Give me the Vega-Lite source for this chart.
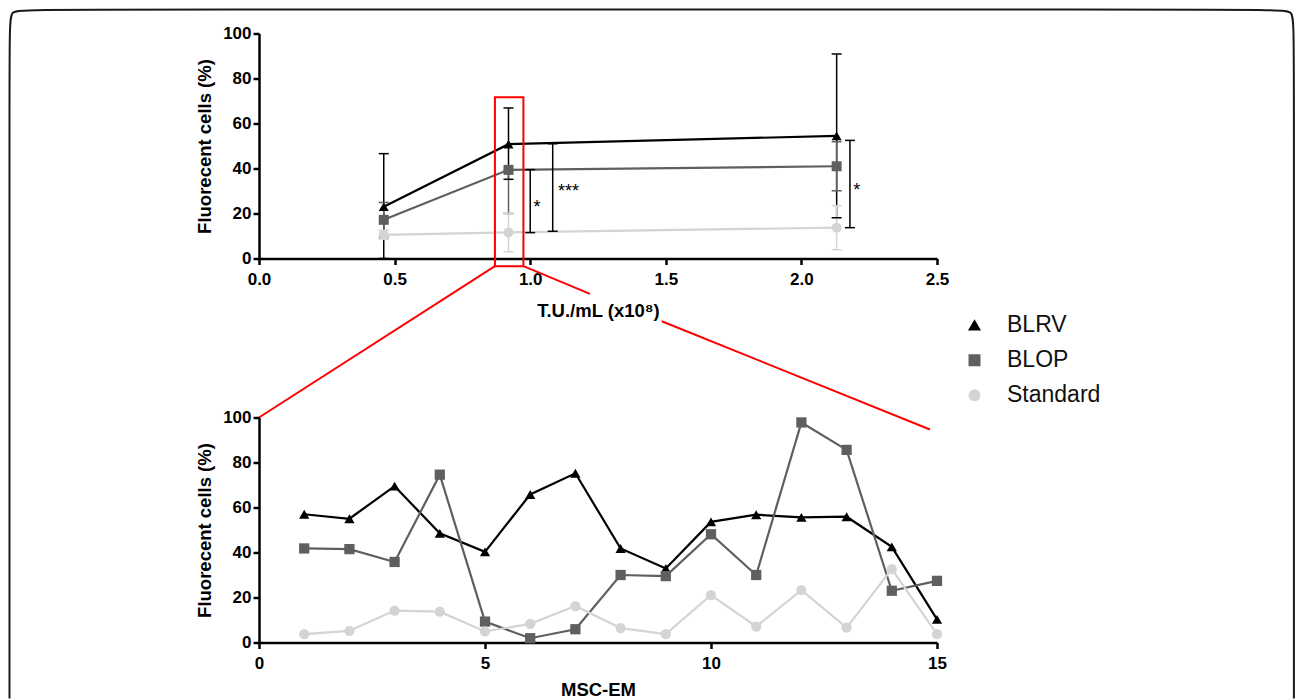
{
  "$schema": "https://vega.github.io/schema/vega-lite/v6.json",
  "background": "white",
  "padding": {"left": 5, "top": 4.5, "right": 0, "bottom": 0},
  "autosize": {"type": "pad"},
  "spacing": 159,
  "bounds": "flush",
  "config": {
    "view": {"stroke": null},
    "font": "Liberation Sans",
    "axis": {
      "domainColor": "#000000", "domainWidth": 2.5, "tickColor": "#000000", "tickWidth": 2.5, "tickSize": 6,
      "labelFont": "Liberation Sans", "labelFontSize": 17, "labelFontWeight": "bold", "labelColor": "#000000",
      "labelPadding": 2, "labelFlush": false,
      "titleFont": "Liberation Sans", "titleFontSize": 18.5, "titleFontWeight": "bold", "titleColor": "#000000",
      "grid": false
    },
    "axisX": {"labelPadding": 7},
    "axisY": {"titlePadding": 8},
    "legend": {
      "orient": "none", "legendX": 704, "legendY": 280.3, "direction": "vertical",
      "labelFont": "Liberation Sans", "labelFontSize": 23, "labelColor": "#111111", "labelOffset": 21,
      "symbolSize": 110, "rowPadding": 11, "symbolOpacity": 1
    },
    "text": {"font": "Liberation Sans"}
  },
  "datasets": {
    "frame": [
      {"i": 0, "x": -0.920, "y": -195.6},
      {"i": 1, "x": -0.920, "y": 101.8},
      {"i": 2, "x": -0.920, "y": 110.67},
      {"i": 3, "x": -0.846, "y": 110.67},
      {"i": 4, "x": 3.742, "y": 110.67},
      {"i": 5, "x": 3.816, "y": 110.67},
      {"i": 6, "x": 3.816, "y": 101.8},
      {"i": 7, "x": 3.816, "y": -195.6}
    ],
    "top": [
      {"series": "BLRV", "x": 0.46, "y": 23, "lo": 0, "hi": 46.6},
      {"series": "BLRV", "x": 0.92, "y": 50.8, "lo": 35.2, "hi": 66.9},
      {"series": "BLRV", "x": 2.13, "y": 54.5, "lo": 18.1, "hi": 90.9},
      {"series": "BLOP", "x": 0.46, "y": 17.2, "lo": 9.3, "hi": 24.9},
      {"series": "BLOP", "x": 0.92, "y": 39.4, "lo": 20, "hi": 39.4},
      {"series": "BLOP", "x": 2.13, "y": 41, "lo": 30.1, "hi": 51.9},
      {"series": "Standard", "x": 0.46, "y": 10.5, "lo": 8.5, "hi": 12.5},
      {"series": "Standard", "x": 0.92, "y": 11.6, "lo": 3.0, "hi": 20.1},
      {"series": "Standard", "x": 2.13, "y": 13.7, "lo": 3.9, "hi": 23.5}
    ],
    "sig": [
      {"x": 1.0, "y1": 39.5, "y2": 11.5, "label": "*", "tx": 1.025, "ty": 22.6},
      {"x": 1.083, "y1": 51.0, "y2": 12.1, "label": "***", "tx": 1.141, "ty": 29.4},
      {"x": 2.179, "y1": 52.5, "y2": 13.7, "label": "*", "tx": 2.204, "ty": 29.9}
    ],
    "box": [
      {"x1": 0.870, "x2": 0.975, "y1": 71.7, "y2": -3.4}
    ],
    "zoomlines": [
      {"x": 0.870, "y": -3.4, "x2": 0.0, "y2": -70.67},
      {"x": 0.975, "y": -3.4, "x2": 1.2205, "y2": -15.7},
      {"x": 1.485, "y": -27.9, "x2": 2.474, "y2": -76.0}
    ],
    "bottom": [
      {"series": "BLRV", "x": 1, "y": 57.0}, {"series": "BLRV", "x": 2, "y": 55.0}, {"series": "BLRV", "x": 3, "y": 69.5},
      {"series": "BLRV", "x": 4, "y": 48.5}, {"series": "BLRV", "x": 5, "y": 40.3}, {"series": "BLRV", "x": 6, "y": 65.8},
      {"series": "BLRV", "x": 7, "y": 75.2}, {"series": "BLRV", "x": 8, "y": 41.8}, {"series": "BLRV", "x": 9, "y": 32.9},
      {"series": "BLRV", "x": 10, "y": 53.6}, {"series": "BLRV", "x": 11, "y": 56.8}, {"series": "BLRV", "x": 12, "y": 55.6},
      {"series": "BLRV", "x": 13, "y": 55.9}, {"series": "BLRV", "x": 14, "y": 42.5}, {"series": "BLRV", "x": 15, "y": 10.3},
      {"series": "BLOP", "x": 1, "y": 41.8}, {"series": "BLOP", "x": 2, "y": 41.5}, {"series": "BLOP", "x": 3, "y": 35.8},
      {"series": "BLOP", "x": 4, "y": 74.6}, {"series": "BLOP", "x": 5, "y": 9.3}, {"series": "BLOP", "x": 6, "y": 1.9},
      {"series": "BLOP", "x": 7, "y": 5.9}, {"series": "BLOP", "x": 8, "y": 30.0}, {"series": "BLOP", "x": 9, "y": 29.5},
      {"series": "BLOP", "x": 10, "y": 48.1}, {"series": "BLOP", "x": 11, "y": 30.0}, {"series": "BLOP", "x": 12, "y": 97.8},
      {"series": "BLOP", "x": 13, "y": 85.6}, {"series": "BLOP", "x": 14, "y": 23.0}, {"series": "BLOP", "x": 15, "y": 27.4},
      {"series": "Standard", "x": 1, "y": 3.7}, {"series": "Standard", "x": 2, "y": 5.2}, {"series": "Standard", "x": 3, "y": 14.2},
      {"series": "Standard", "x": 4, "y": 13.7}, {"series": "Standard", "x": 5, "y": 4.9}, {"series": "Standard", "x": 6, "y": 8.3},
      {"series": "Standard", "x": 7, "y": 16.2}, {"series": "Standard", "x": 8, "y": 6.4}, {"series": "Standard", "x": 9, "y": 3.7},
      {"series": "Standard", "x": 10, "y": 21.1}, {"series": "Standard", "x": 11, "y": 7.1}, {"series": "Standard", "x": 12, "y": 23.3},
      {"series": "Standard", "x": 13, "y": 6.6}, {"series": "Standard", "x": 14, "y": 32.6}, {"series": "Standard", "x": 15, "y": 3.7}
    ]
  },
  "vconcat": [
    {
      "width": 678,
      "height": 225,
      "layer": [
        {
          "data": {"name": "top"},
          "mark": {"type": "line", "strokeWidth": 2.2},
          "encoding": {
            "x": {"field": "x", "type": "quantitative", "title": "T.U./mL (x10⁸)", "scale": {"domain": [0, 2.5], "nice": false, "zero": false},
                  "axis": {"values": [0, 0.5, 1, 1.5, 2, 2.5], "format": ".1f", "titlePadding": 14}},
            "y": {"field": "y", "type": "quantitative", "title": "Fluorecent cells (%)", "scale": {"domain": [0, 100], "nice": false, "zero": false},
                  "axis": {"values": [0, 20, 40, 60, 80, 100]}},
            "color": {"field": "series", "type": "nominal", "title": null, "scale": {"domain": ["BLRV", "BLOP", "Standard"], "range": ["#000000", "#5f5f5f", "#d4d4d4"]}}
          }
        },
        {
          "data": {"name": "frame"},
          "mark": {"type": "line", "clip": false, "interpolate": "basis", "color": "#1a1a1a", "strokeWidth": 2},
          "encoding": {
            "x": {"field": "x", "type": "quantitative", "title": "T.U./mL (x10⁸)"},
            "y": {"field": "y", "type": "quantitative", "title": "Fluorecent cells (%)"},
            "order": {"field": "i", "type": "quantitative"}
          }
        },
        {
          "data": {"name": "top"},
          "mark": {"type": "rule", "strokeWidth": 1.5},
          "encoding": {
            "x": {"field": "x", "type": "quantitative", "title": "T.U./mL (x10⁸)"},
            "y": {"field": "lo", "type": "quantitative", "title": "Fluorecent cells (%)"},
            "y2": {"field": "hi"},
            "color": {"field": "series", "type": "nominal", "title": null}
          }
        },
        {
          "data": {"name": "top"},
          "mark": {"type": "tick", "orient": "horizontal", "size": 10, "thickness": 1.5, "opacity": 1},
          "encoding": {
            "x": {"field": "x", "type": "quantitative", "title": "T.U./mL (x10⁸)"},
            "y": {"field": "lo", "type": "quantitative", "title": "Fluorecent cells (%)"},
            "color": {"field": "series", "type": "nominal", "title": null}
          }
        },
        {
          "data": {"name": "top"},
          "mark": {"type": "tick", "orient": "horizontal", "size": 10, "thickness": 1.5, "opacity": 1},
          "encoding": {
            "x": {"field": "x", "type": "quantitative", "title": "T.U./mL (x10⁸)"},
            "y": {"field": "hi", "type": "quantitative", "title": "Fluorecent cells (%)"},
            "color": {"field": "series", "type": "nominal", "title": null}
          }
        },
        {
          "data": {"name": "top"},
          "mark": {"type": "point", "filled": true, "size": 100, "opacity": 1},
          "encoding": {
            "x": {"field": "x", "type": "quantitative", "title": "T.U./mL (x10⁸)"},
            "y": {"field": "y", "type": "quantitative", "title": "Fluorecent cells (%)"},
            "color": {"field": "series", "type": "nominal", "title": null},
            "shape": {"field": "series", "type": "nominal", "title": null,
              "scale": {"domain": ["BLRV", "BLOP", "Standard"], "range": ["triangle-up", "square", "circle"]}}
          }
        },
        {
          "data": {"name": "sig"},
          "mark": {"type": "rule", "strokeWidth": 1.5, "color": "#000000"},
          "encoding": {
            "x": {"field": "x", "type": "quantitative", "title": "T.U./mL (x10⁸)"},
            "y": {"field": "y1", "type": "quantitative", "title": "Fluorecent cells (%)"},
            "y2": {"field": "y2"}
          }
        },
        {
          "data": {"name": "sig"},
          "mark": {"type": "tick", "orient": "horizontal", "size": 10, "thickness": 1.5, "color": "#000000", "opacity": 1},
          "encoding": {
            "x": {"field": "x", "type": "quantitative", "title": "T.U./mL (x10⁸)"},
            "y": {"field": "y1", "type": "quantitative", "title": "Fluorecent cells (%)"}
          }
        },
        {
          "data": {"name": "sig"},
          "mark": {"type": "tick", "orient": "horizontal", "size": 10, "thickness": 1.5, "color": "#000000", "opacity": 1},
          "encoding": {
            "x": {"field": "x", "type": "quantitative", "title": "T.U./mL (x10⁸)"},
            "y": {"field": "y2", "type": "quantitative", "title": "Fluorecent cells (%)"}
          }
        },
        {
          "data": {"name": "sig"},
          "mark": {"type": "text", "fontSize": 18, "color": "#000000", "align": "center", "baseline": "middle"},
          "encoding": {
            "x": {"field": "tx", "type": "quantitative", "title": "T.U./mL (x10⁸)"},
            "y": {"field": "ty", "type": "quantitative", "title": "Fluorecent cells (%)"},
            "text": {"field": "label"}
          }
        },
        {
          "data": {"name": "box"},
          "mark": {"type": "rect", "clip": false, "fill": "transparent", "stroke": "#ff0000", "strokeWidth": 2},
          "encoding": {
            "x": {"field": "x1", "type": "quantitative", "title": "T.U./mL (x10⁸)"},
            "x2": {"field": "x2"},
            "y": {"field": "y1", "type": "quantitative", "title": "Fluorecent cells (%)"},
            "y2": {"field": "y2"}
          }
        },
        {
          "data": {"name": "zoomlines"},
          "mark": {"type": "rule", "clip": false, "color": "#ff0000", "strokeWidth": 2},
          "encoding": {
            "x": {"field": "x", "type": "quantitative", "title": "T.U./mL (x10⁸)"},
            "x2": {"field": "x2"},
            "y": {"field": "y", "type": "quantitative", "title": "Fluorecent cells (%)"},
            "y2": {"field": "y2"}
          }
        }
      ]
    },
    {
      "width": 678,
      "height": 225,
      "data": {"name": "bottom"},
      "layer": [
        {
          "mark": {"type": "line", "strokeWidth": 2.2},
          "encoding": {
            "x": {"field": "x", "type": "quantitative", "title": "MSC-EM", "scale": {"domain": [0, 15], "nice": false, "zero": false},
                  "axis": {"values": [0, 5, 10, 15], "format": "d", "titlePadding": 9}},
            "y": {"field": "y", "type": "quantitative", "title": "Fluorecent cells (%)", "scale": {"domain": [0, 100], "nice": false, "zero": false},
                  "axis": {"values": [0, 20, 40, 60, 80, 100]}},
            "color": {"field": "series", "type": "nominal", "title": null}
          }
        },
        {
          "mark": {"type": "point", "filled": true, "size": 105, "opacity": 1},
          "encoding": {
            "x": {"field": "x", "type": "quantitative", "title": "MSC-EM"},
            "y": {"field": "y", "type": "quantitative", "title": "Fluorecent cells (%)"},
            "color": {"field": "series", "type": "nominal", "title": null},
            "shape": {"field": "series", "type": "nominal", "title": null}
          }
        }
      ]
    }
  ]
}
